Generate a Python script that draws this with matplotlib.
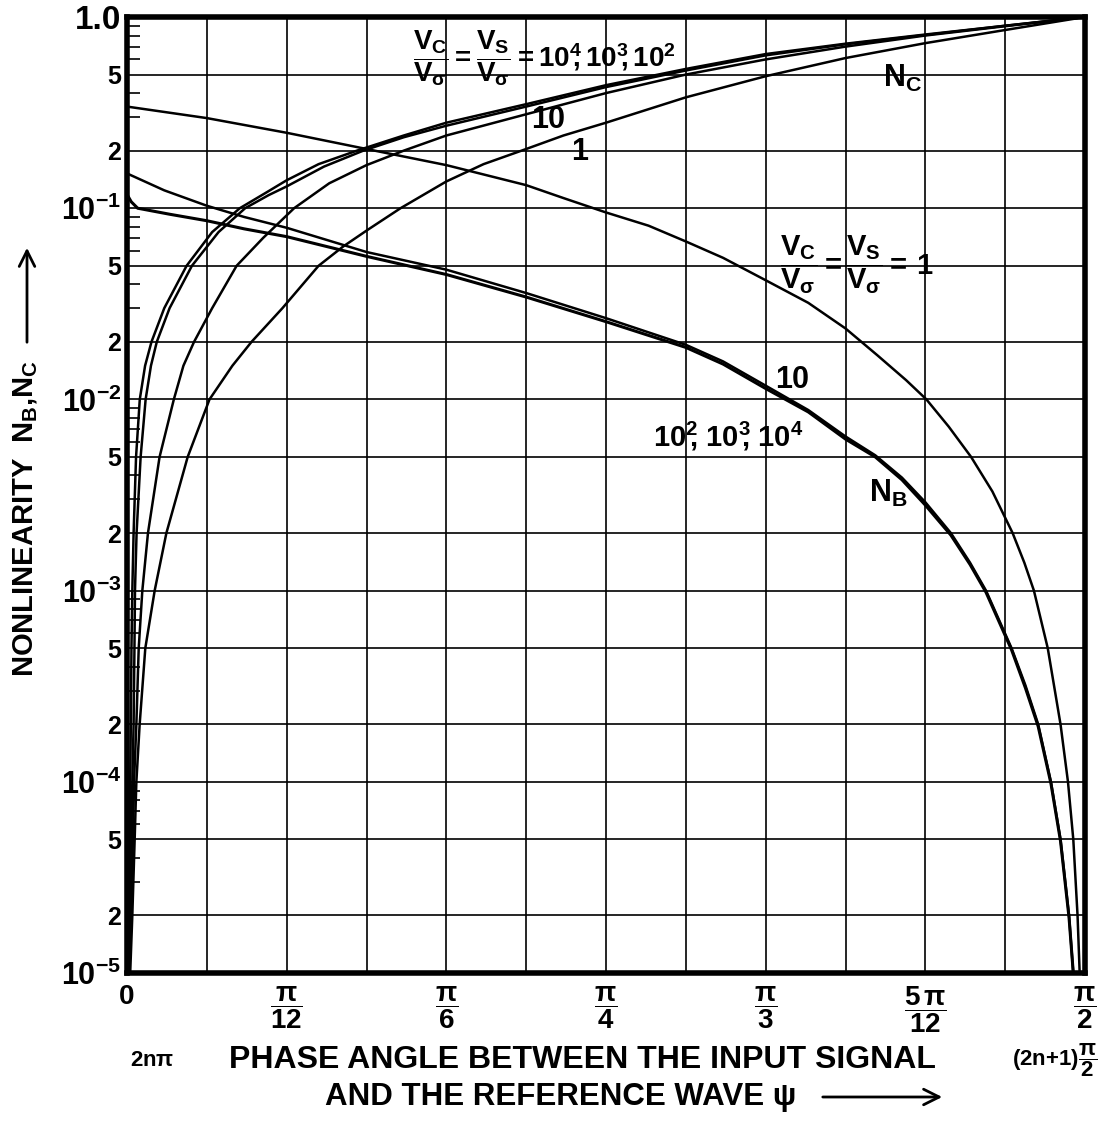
import matplotlib
matplotlib.use("Agg")
import matplotlib.pyplot as plt
from matplotlib.ticker import FixedLocator, LogLocator, NullFormatter
from matplotlib.patches import FancyArrowPatch

plt.rcParams['font.family'] = ['Liberation Sans', 'DejaVu Sans']
plt.rcParams['font.weight'] = 'bold'
plt.rcParams['mathtext.fontset'] = 'custom'
plt.rcParams['mathtext.rm'] = 'Liberation Sans:bold'
plt.rcParams['mathtext.it'] = 'Liberation Sans:bold:italic'
plt.rcParams['mathtext.bf'] = 'Liberation Sans:bold'
plt.rcParams['mathtext.default'] = 'rm'

# ---- data (psi in degrees, 0 .. 90 = pi/2) ----
# N_C curves (rising)
nc_big_psi = [0.10, 0.18, 0.25, 0.30, 0.36, 0.42, 0.50, 0.62, 0.85, 1.2, 1.7, 2.3,
              3.5, 5.6, 8.0, 10.6, 13.0, 15.0, 18.0, 21.6, 26.0, 30.0, 37.5, 45.0,
              52.5, 60.0, 67.5, 75.0, 82.5, 90.0]
nc_big_val = [1e-5, 2e-5, 5e-5, 1e-4, 2e-4, 5e-4, 1e-3, 2e-3, 5e-3, 1e-2, 1.5e-2, 2e-2,
              3e-2, 5e-2, 0.075, 0.1, 0.12, 0.14, 0.17, 0.2, 0.24, 0.28, 0.35, 0.44,
              0.535, 0.64, 0.725, 0.81, 0.90, 1.0]

nc_100_psi = [0.15, 0.25, 0.40, 0.50, 0.62, 0.70, 0.75, 0.90, 1.28, 1.75, 2.25, 2.8,
              4.0, 6.1, 8.6, 11.1, 13.3, 15.0, 18.5, 22.2, 26.0, 30.0, 37.5, 45.0,
              52.5, 60.0, 67.5, 75.0, 82.5, 90.0]
nc_100_val = [1e-5, 2e-5, 5e-5, 1e-4, 2e-4, 5e-4, 1e-3, 2e-3, 5e-3, 1e-2, 1.5e-2, 2e-2,
              3e-2, 5e-2, 0.075, 0.1, 0.117, 0.13, 0.165, 0.2, 0.235, 0.27, 0.34, 0.43,
              0.525, 0.63, 0.72, 0.805, 0.90, 1.0]

nc_10_psi = [0.20, 0.34, 0.56, 0.66, 0.88, 1.10, 1.44, 1.97, 3.06, 4.4, 5.3, 6.3,
             8.0, 10.3, 12.8, 15.7, 19.0, 22.5, 26.0, 30.0, 37.5, 45.0, 52.5, 60.0,
             67.5, 75.0, 82.5, 90.0]
nc_10_val = [1e-5, 2e-5, 5e-5, 1e-4, 2e-4, 5e-4, 1e-3, 2e-3, 5e-3, 1e-2, 1.5e-2, 2e-2,
             3e-2, 5e-2, 0.07, 0.1, 0.135, 0.168, 0.2, 0.24, 0.31, 0.40, 0.50, 0.60,
             0.70, 0.80, 0.895, 1.0]

nc_1_psi = [0.30, 0.50, 0.72, 0.88, 1.19, 1.72, 2.6, 3.7, 5.7, 7.75, 9.9, 11.7,
            14.6, 18.0, 20.3, 22.6, 25.7, 30.0, 33.5, 37.5, 41.0, 45.0, 52.5, 60.0,
            67.5, 75.0, 82.5, 90.0]
nc_1_val = [1e-5, 2e-5, 5e-5, 1e-4, 2e-4, 5e-4, 1e-3, 2e-3, 5e-3, 1e-2, 1.5e-2, 2e-2,
            3e-2, 5e-2, 0.063, 0.077, 0.1, 0.138, 0.17, 0.204, 0.24, 0.28, 0.38, 0.49,
            0.61, 0.73, 0.855, 1.0]

# N_B curves (falling)
nb_1_psi = [0.0, 7.5, 15.0, 22.5, 30.0, 37.5, 41.0, 45.0, 49.0, 52.5, 56.0, 60.0,
            64.0, 67.5, 70.5, 73.2, 75.1, 77.2, 79.3, 81.3, 83.2, 84.3, 85.2, 86.5,
            87.7, 88.4, 88.9, 89.3, 89.5]
nb_1_val = [0.34, 0.296, 0.248, 0.204, 0.168, 0.132, 0.113, 0.095, 0.081, 0.067, 0.055,
            0.042, 0.032, 0.0235, 0.017, 0.0126, 0.01, 0.0072, 5e-3, 3.3e-3, 2e-3,
            1.4e-3, 1e-3, 5e-4, 2e-4, 1e-4, 5e-5, 2e-5, 1e-5]

nb_10_psi = [0.0, 3.5, 7.5, 11.0, 15.0, 22.5, 30.0, 37.5, 45.0, 52.5, 56.0, 60.0,
             64.0, 67.5, 70.3, 72.8, 75.0, 77.4, 79.2, 80.7, 83.1, 84.4, 85.6, 86.8,
             87.7, 88.5, 88.9]
nb_10_val = [0.152, 0.124, 0.103, 0.09, 0.079, 0.059, 0.0477, 0.036, 0.0266, 0.0193,
             0.0158, 0.0118, 0.0088, 0.0064, 0.0051, 0.0039, 0.0029, 2e-3, 1.4e-3,
             1e-3, 5e-4, 3.2e-4, 2e-4, 1e-4, 5e-5, 2e-5, 1e-5]

nb_big_psi = [0.0, 0.4, 1.0, 4.0, 7.5, 11.0, 15.0, 22.5, 30.0, 37.5, 45.0, 52.5, 56.0,
              60.0, 64.0, 67.5, 70.3, 72.8, 75.0, 77.4, 79.2, 80.7, 83.1, 84.4, 85.6,
              86.8, 87.7, 88.5, 88.9]
nb_big_val = [0.118, 0.108, 0.1, 0.093, 0.086, 0.078, 0.071, 0.056, 0.045, 0.0343,
              0.0255, 0.0187, 0.0153, 0.0114, 0.0086, 0.0062, 0.005, 0.0038, 0.0028,
              1.95e-3, 1.37e-3, 9.8e-4, 4.9e-4, 3.1e-4, 1.95e-4, 9.8e-5, 4.9e-5,
              1.95e-5, 1e-5]

# ticks
x_major = [0, 15, 30, 45, 60, 75, 90]
x_labels = ['0', r'$\dfrac{\pi}{12}$', r'$\dfrac{\pi}{6}$', r'$\dfrac{\pi}{4}$',
            r'$\dfrac{\pi}{3}$', r'$\dfrac{5\,\pi}{12}$', r'$\dfrac{\pi}{2}$']
x_grid = [7.5, 22.5, 37.5, 52.5, 67.5, 82.5]
y_major = [1e-5, 2e-5, 5e-5, 1e-4, 2e-4, 5e-4, 1e-3, 2e-3, 5e-3,
           1e-2, 2e-2, 5e-2, 1e-1, 2e-1, 5e-1, 1.0]
y_labels = [r'$10^{-5}$', '2', '5', r'$10^{-4}$', '2', '5', r'$10^{-3}$', '2', '5',
            r'$10^{-2}$', '2', '5', r'$10^{-1}$', '2', '5', '1.0']

W, H = 1100, 1121


def fx(px):
    return px / W


def fy(py):
    return 1 - py / H


fig = plt.figure(figsize=(W / 100, H / 100), dpi=100)
ax = fig.add_axes([fx(127), fy(973), (1085 - 127) / W, (973 - 17) / H])
ax.set_yscale('log')
ax.set_xlim(0, 90)
ax.set_ylim(1e-5, 1.0)

style = dict(color='black', lw=1.8, solid_joinstyle='round', solid_capstyle='round')
ax.plot(nc_big_psi, nc_big_val, **style)
ax.plot(nc_100_psi, nc_100_val, **style)
ax.plot(nc_10_psi, nc_10_val, **style)
ax.plot(nc_1_psi, nc_1_val, **style)
ax.plot(nb_1_psi, nb_1_val, **style)
ax.plot(nb_10_psi, nb_10_val, **style)
ax.plot(nb_big_psi, nb_big_val, **dict(style, lw=2.2))

# grid
ax.xaxis.set_major_locator(FixedLocator(x_major))
ax.xaxis.set_minor_locator(FixedLocator(x_grid))
ax.set_xticklabels(x_labels)
ax.yaxis.set_major_locator(FixedLocator(y_major))
ax.set_yticklabels(y_labels)
ax.yaxis.set_minor_locator(LogLocator(base=10, subs=(3, 4, 6, 7, 8, 9)))
ax.yaxis.set_minor_formatter(NullFormatter())
ax.grid(which='both', axis='x', color='black', lw=1.2)
ax.grid(which='major', axis='y', color='black', lw=1.2)

ax.tick_params(axis='x', which='both', length=0, pad=8, labelsize=20)
ax.tick_params(axis='y', which='major', length=0, pad=4, labelsize=18)
ax.tick_params(axis='y', which='minor', direction='in', length=9, width=1.2,
               left=True, right=False)
for lab, v in zip(ax.get_yticklabels(), y_labels):
    if v.startswith('$10'):
        lab.set_fontsize(22)
    elif v == '1.0':
        lab.set_fontsize(24)
for sp in ax.spines.values():
    sp.set_linewidth(4)

# axis titles
fig.text(fx(26), fy(518), r'NONLINEARITY  N$_{B}$,N$_{C}$', rotation=90,
         ha='center', va='center', fontsize=21, weight='bold')
fig.add_artist(FancyArrowPatch((fx(27), fy(345)), (fx(27), fy(245)),
                               transform=fig.transFigure, arrowstyle='->',
                               mutation_scale=28, lw=2, color='black'))
fig.text(fx(582), fy(1060), 'PHASE ANGLE BETWEEN THE INPUT SIGNAL',
         ha='center', va='center', fontsize=23, weight='bold')
fig.text(fx(325), fy(1097), r'AND THE REFERENCE WAVE ψ',
         ha='left', va='center', fontsize=22.5, weight='bold')
fig.add_artist(FancyArrowPatch((fx(820), fy(1097)), (fx(945), fy(1097)),
                               transform=fig.transFigure, arrowstyle='->',
                               mutation_scale=28, lw=2, color='black'))
fig.text(fx(152), fy(1060), r'2n$\pi$', ha='center', va='center', fontsize=16)
fig.text(fx(1097), fy(1060), r'(2n+1)$\dfrac{\pi}{2}$', ha='right', va='center',
         fontsize=16)

# curve annotations
fig.text(fx(413), fy(58),
         r'$\dfrac{V_C}{V_\sigma}{=}\dfrac{V_S}{V_\sigma}{=}10^4\!\!,10^3\!\!,10^2$',
         ha='left', va='center', fontsize=20)
fig.text(fx(903), fy(78), r'N$_C$', ha='center', va='center', fontsize=22)
fig.text(fx(548), fy(120), '10', ha='center', va='center', fontsize=22)
fig.text(fx(580), fy(152), '1', ha='center', va='center', fontsize=22)
fig.text(fx(780), fy(265), r'$\dfrac{V_C}{V_\sigma}{=}\dfrac{V_S}{V_\sigma}{=}\,1$',
         ha='left', va='center', fontsize=21)
fig.text(fx(792), fy(380), '10', ha='center', va='center', fontsize=22)
fig.text(fx(728), fy(436), r'10$^2\!\!$, 10$^3\!\!$, 10$^4$', ha='center', va='center',
         fontsize=21)
fig.text(fx(888), fy(493), r'N$_B$', ha='center', va='center', fontsize=22)

fig.savefig('out.png', dpi=100)
